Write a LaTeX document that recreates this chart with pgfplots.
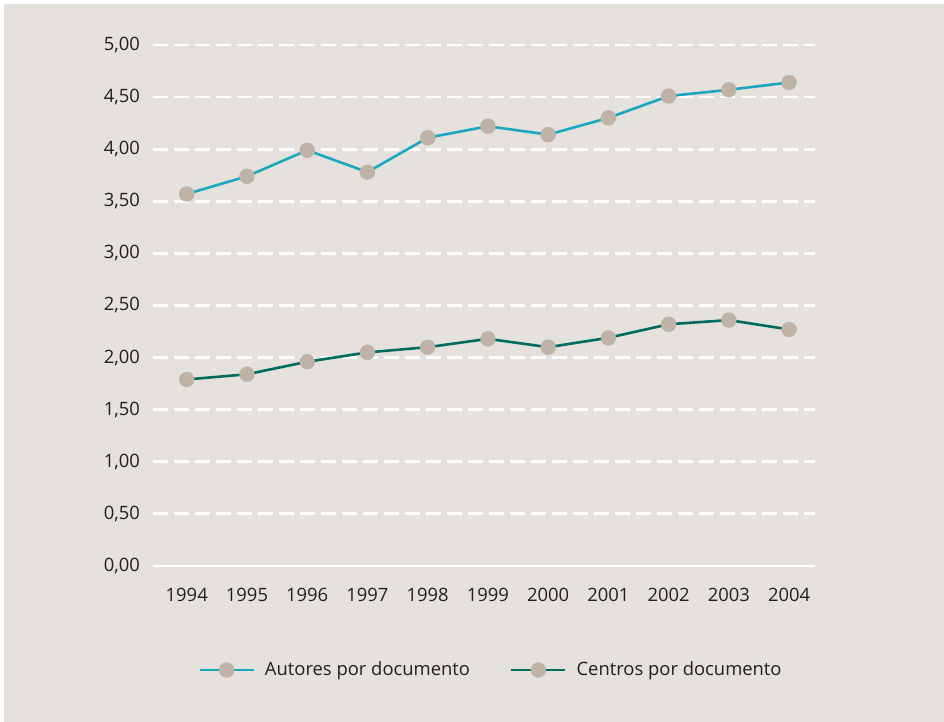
\documentclass[border=0pt]{standalone}
\usepackage{pgfplots}
\pgfplotsset{compat=1.18}
\usepackage{fontspec}
\setmainfont{Open Sans}
\definecolor{fondo}{HTML}{E5E1DC}
\definecolor{autores}{HTML}{1AA7BF}
\definecolor{centros}{HTML}{006B5E}
\definecolor{punto}{HTML}{BFB2A6}
\definecolor{texto}{HTML}{231F20}
\begin{document}
\begin{tikzpicture}
% white frame and beige panel (1px = 0.5pt)
\fill[white] (-76.5pt,-78pt) rectangle (395.5pt,283pt);
\fill[fondo] (-74.5pt,-78pt) rectangle (395.5pt,281pt);
\begin{axis}[
    at={(0pt,0pt)}, anchor=south west,
    scale only axis, width=331pt, height=260.5pt,
    xmin=-0.56, xmax=10.43, ymin=0, ymax=5,
    clip=false,
    axis x line=bottom, axis y line=left,
    x axis line style={white, line width=1.4pt, -},
    y axis line style={draw=none},
    major tick length=0pt,
    xtick={0,...,10},
    xticklabels={1994,1995,1996,1997,1998,1999,2000,2001,2002,2003,2004},
    ytick={0,0.5,...,5},
    yticklabels={{0,00},{0,50},{1,00},{1,50},{2,00},{2,50},{3,00},{3,50},{4,00},{4,50},{5,00}},
    ymajorgrids,
    grid style={white, line width=1.4pt, dash pattern=on 7.5pt off 3pt},
    tick label style={font=\fontsize{9.2}{11}\selectfont, text=texto},
    xticklabel style={yshift=-7.5pt},
    yticklabel style={xshift=-3pt},
    legend columns=2,
    legend style={at={(axis description cs:0.5,0)}, anchor=center, yshift=-52pt, xshift=4pt,
        draw=none, fill=none, font=\fontsize{9.2}{11}\selectfont, text=texto,
        /tikz/every odd column/.append style={column sep=3pt},
        /tikz/every even column/.append style={column sep=18pt}},
    legend cell align=left,
    legend image code/.code={\draw[mark repeat=2,mark phase=2,#1] plot coordinates {(0pt,0pt) (13.5pt,0pt) (27pt,0pt)};},
]
\addplot[autores, line width=1.3pt, mark=*, mark size=3.2pt, mark options={punto}] coordinates {
    (0,3.57) (1,3.74) (2,3.99) (3,3.78) (4,4.11) (5,4.22)
    (6,4.14) (7,4.30) (8,4.51) (9,4.57) (10,4.64)
};
\addlegendentry{Autores por documento}
\addplot[centros, line width=1.3pt, mark=*, mark size=3.2pt, mark options={punto}] coordinates {
    (0,1.79) (1,1.84) (2,1.96) (3,2.05) (4,2.10) (5,2.18)
    (6,2.10) (7,2.19) (8,2.32) (9,2.36) (10,2.27)
};
\addlegendentry{Centros por documento}
\end{axis}
\end{tikzpicture}
\end{document}
